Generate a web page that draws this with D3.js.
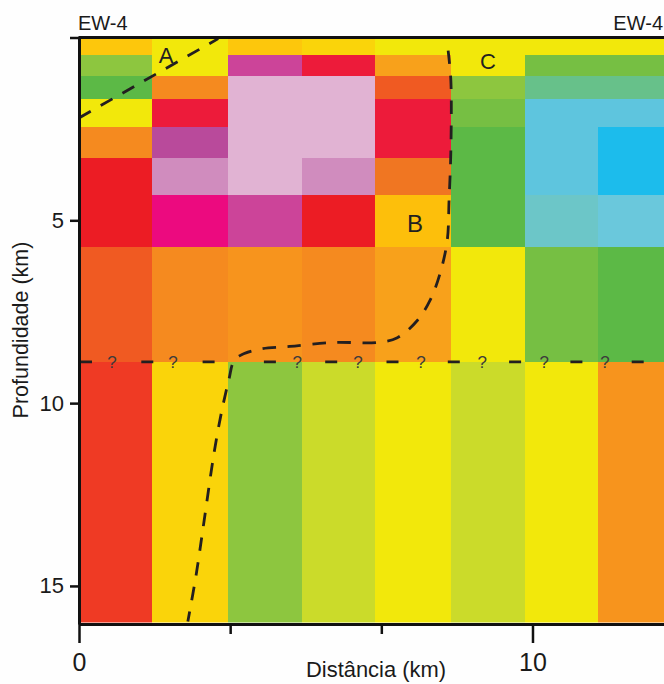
<!DOCTYPE html>
<html>
<head>
<meta charset="utf-8">
<script src="https://cdn.jsdelivr.net/npm/d3@7"></script>
<style>
  body { margin: 0; background: #fff; }
  svg { display: block; font-family: Arial, "Liberation Sans", sans-serif; }
</style>
</head>
<body>
<svg id="chart" width="664" height="684"></svg>
<script>
// cell edges: distance along profile (km) and depth (km)
const colEdges = [0, 1.62, 3.29, 4.91, 6.53, 8.2, 9.83, 11.45, 13.07];
const rowEdges = [0, 0.49, 1.05, 1.69, 2.45, 3.29, 4.3, 5.72, 8.87, 16];

// unit code of every cell, one list per column, top to bottom
const col0 = ["gd", "lg", "g", "y", "o", "r", "r", "or", "ro"];
const col1 = ["y", "y", "o", "rp", "pu", "pp", "hp", "o", "gy"];
const col2 = ["gd", "mag", "lp", "lp", "lp", "lp", "mag", "o2", "lg"];
const col3 = ["gy", "rp", "lp", "lp", "lp", "pp", "r", "o", "yg"];
const col4 = ["y", "oy", "or", "rp", "rp", "o3", "go", "oy", "y"];
const col5 = ["y", "y", "lg", "mg", "g", "g", "g", "y", "yg"];
const col6 = ["y", "mg", "tg", "lb", "lb", "lb", "tl", "mg", "y"];
const col7 = ["y", "mg", "tg", "lb", "bb", "bb", "lb2", "g", "o2"];
const columns = [col0, col1, col2, col3, col4, col5, col6, col7];

const unitCodes = ["gd", "gy", "y", "yg", "lg", "mg", "g", "tg", "tl", "lb", "lb2", "bb",
  "oy", "go", "o", "o2", "o3", "or", "ro", "r", "rp", "hp", "mag", "pu", "pp", "lp"];
const unitColors = ["#fdc70c", "#fad40a", "#f2e80b", "#cbdb2a", "#8dc63f", "#76bf43", "#5cb946",
  "#67c18a", "#6cc6c8", "#5ec5de", "#6ac8dc", "#1cbcec",
  "#f8a11b", "#fdbf0b", "#f58a1f", "#f7941d", "#f07622", "#f05a22", "#ef3a24", "#ec1c24",
  "#ed1b3a", "#ec0a7f", "#cc4499", "#b94a9b", "#d08cbe", "#e1b3d3"];

// interpreted boundaries, [distance km, depth km]
const faultA = [[0, 2.2], [3.07, 0.03]];
const faultBC = [[8.14, 0.36], [8.2, 1.18], [8.2, 3.09], [8.16, 4.46], [8.12, 5.55], [7.96, 6.46],
  [7.74, 7.19], [7.46, 7.74], [7.02, 8.21], [6.57, 8.34], [5.6, 8.34], [4.65, 8.45], [3.99, 8.52],
  [3.55, 8.7], [3.4, 8.89], [3.31, 9.33], [3.15, 10.2], [2.98, 11.35], [2.76, 13.21], [2.58, 14.72],
  [2.4, 15.97]];
const horizonDepth = 8.87;
const queryMarks = [0.73, 2.07, 4.81, 6.15, 7.54, 8.89, 10.26, 11.6];
const bodyNames = ["A", "B", "C"];
const bodyX = [1.92, 7.41, 9.02];
const bodyDepth = [0.71, 5.33, 0.85];

const xTicks = [0, 10 / 3, 20 / 3, 10];
const xTickLabels = ["0", "", "", "10"];
const yTicks = [0, 5, 10, 15];

const svg = d3.select("#chart");
const ink = "#231f20";

const x = d3.scaleLinear().domain([0, 12.9]).range([79, 664]);
const y = d3.scaleLinear().domain([0, 16]).range([37.5, 622.5]);
const color = d3.scaleOrdinal().domain(unitCodes).range(unitColors);

svg.append("rect").attr("width", 664).attr("height", 684).attr("fill", "#fefefe");

svg.append("clipPath").attr("id", "plot-clip")
  .append("rect")
  .attr("x", x(0)).attr("y", y(0))
  .attr("width", x(12.9) - x(0)).attr("height", y(16) - y(0));

const plot = svg.append("g").attr("clip-path", "url(#plot-clip)");

const cells = columns.flatMap((col, i) =>
  col.map((code, j) => ({ i, j, code })));

plot.append("g")
  .selectAll("rect")
  .data(cells)
  .join("rect")
  .attr("x", d => x(colEdges[d.i]))
  .attr("y", d => y(rowEdges[d.j]))
  .attr("width", d => x(colEdges[d.i + 1]) - x(colEdges[d.i]))
  .attr("height", d => y(rowEdges[d.j + 1]) - y(rowEdges[d.j]))
  .attr("fill", d => color(d.code))
  .attr("shape-rendering", "crispEdges");

const line = d3.line().x(d => x(d[0])).y(d => y(d[1])).curve(d3.curveCatmullRom);

plot.selectAll(".fault")
  .data([faultA, faultBC])
  .join("path")
  .attr("class", "fault")
  .attr("d", line)
  .attr("fill", "none")
  .attr("stroke", ink)
  .attr("stroke-width", 2.8)
  .attr("stroke-dasharray", "13.5,11.5");

plot.append("line")
  .attr("x1", x(0) + 1).attr("x2", x(12.9))
  .attr("y1", y(horizonDepth)).attr("y2", y(horizonDepth))
  .attr("stroke", ink)
  .attr("stroke-width", 2.8)
  .attr("stroke-dasharray", "12,49.3");

plot.selectAll(".qmark")
  .data(queryMarks)
  .join("text")
  .attr("class", "qmark")
  .attr("x", d => x(d))
  .attr("y", y(horizonDepth))
  .attr("dy", "0.36em")
  .attr("text-anchor", "middle")
  .attr("font-size", 17)
  .attr("fill", "#3d3b3b")
  .text("?");

plot.selectAll(".body")
  .data(bodyNames)
  .join("text")
  .attr("class", "body")
  .attr("x", (d, i) => x(bodyX[i]))
  .attr("y", (d, i) => y(bodyDepth[i]))
  .attr("text-anchor", "middle")
  .attr("font-size", (d, i) => i === 1 ? 24 : 22)
  .attr("fill", ink)
  .text(d => d);

// top border
svg.append("line")
  .attr("x1", x(0)).attr("x2", x(12.9))
  .attr("y1", y(0)).attr("y2", y(0))
  .attr("stroke", "#111").attr("stroke-width", 3);

const yAxis = svg.append("g")
  .attr("transform", `translate(${x(0)},0)`)
  .call(d3.axisLeft(y).tickValues(yTicks).tickFormat(d => d ? d : "")
    .tickSize(9).tickPadding(6).tickSizeOuter(0));
yAxis.select(".domain").attr("stroke", "#111").attr("stroke-width", 3).attr("stroke-linecap", "square");
yAxis.selectAll(".tick line").attr("stroke", "#111").attr("stroke-width", 2.5);
yAxis.selectAll(".tick text").attr("font-size", 22).attr("fill", "#1a1a1a").attr("font-family", "Arial, 'Liberation Sans', sans-serif");

const xAxis = svg.append("g")
  .attr("transform", `translate(0,${y(16) + 1.5})`)
  .call(d3.axisBottom(x).tickValues(xTicks).tickFormat((d, i) => xTickLabels[i])
    .tickSize(19).tickPadding(10).tickSizeOuter(0));
xAxis.select(".domain").attr("stroke", "#111").attr("stroke-width", 3);
xAxis.selectAll(".tick line")
  .attr("stroke", "#111").attr("stroke-width", 2.5)
  .attr("y2", (d, i) => xTickLabels[i] ? 19 : 10);
xAxis.selectAll(".tick text").attr("font-size", 25).attr("fill", "#1a1a1a").attr("font-family", "Arial, 'Liberation Sans', sans-serif");

svg.append("text")
  .attr("x", 376).attr("y", 677)
  .attr("text-anchor", "middle")
  .attr("font-size", 22.5)
  .attr("textLength", 140)
  .attr("lengthAdjust", "spacingAndGlyphs")
  .attr("fill", "#1a1a1a")
  .text("Distância (km)");

svg.append("text")
  .attr("transform", "translate(28,330) rotate(-90)")
  .attr("text-anchor", "middle")
  .attr("font-size", 21.5)
  .attr("fill", "#1a1a1a")
  .text("Profundidade (km)");

svg.append("text")
  .attr("x", 78).attr("y", 29.5)
  .attr("font-size", 20)
  .attr("fill", "#1a1a1a")
  .text("EW-4");

svg.append("text")
  .attr("x", 663).attr("y", 29.5)
  .attr("text-anchor", "end")
  .attr("font-size", 20)
  .attr("fill", "#1a1a1a")
  .text("EW-4");
</script>
</body>
</html>
